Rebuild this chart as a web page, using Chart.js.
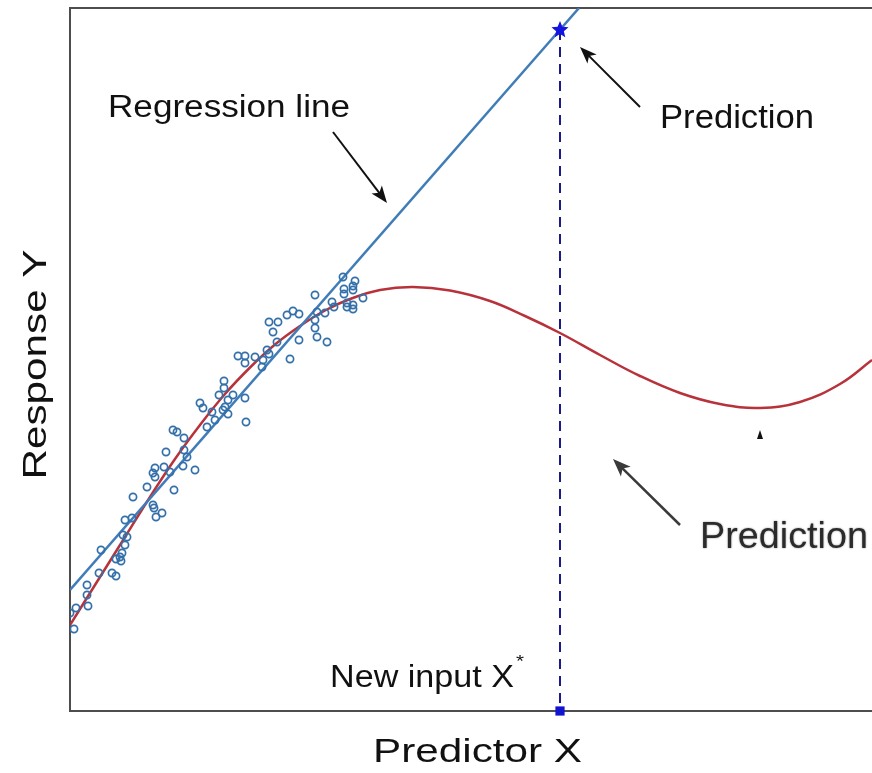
<!DOCTYPE html>
<html>
<head>
<meta charset="utf-8">
<script src="https://cdn.jsdelivr.net/npm/chart.js@4.4.1/dist/chart.umd.min.js"></script>
<style>
  html, body { margin: 0; padding: 0; background: #fff; }
  #wrap { width: 872px; height: 773px; }
</style>
</head>
<body>
<div id="wrap"><canvas id="chart" width="872" height="773"></canvas></div>
<script>
var obsX = [27.3, 28.5, 28.3, 27.4, 28.3, 24.5, 27.4, 29.3, 26.2, 27.7, 28.3, 26.4, 27.7, 28.3, 24.7, 25.5, 24.5, 22.3, 22.9, 21.7,
            19.9, 20.8, 20.3, 24.5, 24.7, 22.9, 25.7, 20.7, 19.7, 19.9, 19.3, 22.0, 16.8, 17.5, 18.5, 17.5, 19.2, 15.4, 15.4, 14.9,
            16.3, 17.5, 15.8, 13.0, 13.3, 15.5, 14.2, 15.3, 15.8, 14.5, 17.6, 10.3, 10.7, 11.4, 13.7, 9.6, 11.4, 11.7, 12.5, 11.3,
            8.5, 9.4, 8.3, 8.5, 10.0, 7.7, 10.4, 6.3, 8.3, 8.4, 9.2, 8.6, 5.5, 6.2, 5.3, 5.7, 5.5, 5.2, 5.0, 5.1,
            4.6, 3.1, 2.9, 4.2, 4.6, 1.7, 1.7, 1.8, 0.6, 0.0, 0.4];
var obsY = [43.4, 43.0, 42.5, 42.2, 42.1, 41.6, 41.7, 41.3, 40.9, 40.8, 40.6, 40.4, 40.4, 40.2, 39.9, 39.8, 39.1, 40.0, 39.7, 39.6,
            38.9, 38.9, 37.9, 38.3, 37.4, 37.1, 36.9, 36.9, 36.1, 35.7, 35.1, 35.2, 35.5, 35.5, 35.4, 34.8, 34.4, 33.0, 32.3, 31.6,
            31.6, 31.3, 31.1, 30.8, 30.3, 30.4, 29.9, 30.1, 29.7, 29.1, 28.9, 28.1, 27.9, 27.3, 28.4, 25.9, 26.1, 25.4, 24.1, 24.5,
            24.3, 24.4, 23.8, 23.4, 23.9, 22.4, 22.1, 21.4, 20.6, 20.3, 19.8, 19.4, 19.1, 19.3, 17.6, 17.4, 16.6, 15.8, 15.4, 15.0,
            15.2, 16.1, 13.8, 13.8, 13.5, 12.6, 11.6, 10.5, 10.3, 9.8, 8.2];

// straight regression line
var regX = [0, 50.9];
var regY = [12.1, 70.3];

// red nonlinear curve
var curveX = [0, 2.5, 5.0, 8.0, 10.5, 13.0, 15.5, 18.0, 20.5, 23.0, 25.5, 28.0, 31.0, 34.3,
              38.0, 42.0, 45.5, 49.0, 53.0, 57.0, 61.0, 65.0, 69.0, 73.0, 77.0, 80.2];
var curveY = [8.6, 12.6, 16.6, 21.4, 25.2, 28.6, 31.7, 34.35, 36.65, 38.5, 40.05, 41.2, 42.1, 42.4,
              42.05, 41.0, 39.5, 37.8, 35.6, 33.5, 31.8, 30.7, 30.3, 30.9, 32.7, 35.1];

// new input and its prediction
var newInputX = 49.0;
var predictionY = 68.1;

var xMin = 0, xMax = 80.2, yMin = 0, yMax = 70.3;

var fontFamily = '"Liberation Sans", Arial, sans-serif';

function makeStar(r, color) {
    var c = document.createElement('canvas');
    c.width = c.height = 2 * r + 2;
    var g = c.getContext('2d');
    g.fillStyle = color;
    g.beginPath();
    for (var i = 0; i < 10; i++) {
        var a = -Math.PI / 2 + i * Math.PI / 5;
        var rr = i % 2 ? r * 0.45 : r;
        g.lineTo(r + 1 + rr * Math.cos(a), r + 1 + rr * Math.sin(a));
    }
    g.closePath();
    g.fill();
    return c;
}

function toPoints(xs, ys) {
    return xs.map(function (x, i) { return { x: x, y: ys[i] }; });
}

// draw text squeezed/stretched to a given width
function stretchText(ctx, str, x, y, size, width, color) {
    ctx.save();
    ctx.font = size + 'px ' + fontFamily;
    var w = ctx.measureText(str).width;
    ctx.translate(x, y);
    ctx.scale(width / w, 1);
    ctx.fillStyle = color || '#111';
    ctx.textAlign = 'left';
    ctx.textBaseline = 'alphabetic';
    ctx.fillText(str, 0, 0);
    ctx.restore();
}

function arrow(ctx, x1, y1, x2, y2, color, lw, len, wid) {
    var ang = Math.atan2(y2 - y1, x2 - x1);
    ctx.save();
    ctx.strokeStyle = color;
    ctx.fillStyle = color;
    ctx.lineWidth = lw;
    ctx.beginPath();
    ctx.moveTo(x1, y1);
    ctx.lineTo(x2 - Math.cos(ang) * len * 0.7, y2 - Math.sin(ang) * len * 0.7);
    ctx.stroke();
    ctx.translate(x2, y2);
    ctx.rotate(ang);
    ctx.beginPath();
    ctx.moveTo(0, 0);
    ctx.lineTo(-len, -wid / 2);
    ctx.lineTo(-len * 0.75, 0);
    ctx.lineTo(-len, wid / 2);
    ctx.closePath();
    ctx.fill();
    ctx.restore();
}

var annotations = {
    id: 'annotations',
    afterDraw: function (chart) {
        var ctx = chart.ctx;
        var sx = chart.scales.x, sy = chart.scales.y;
        var px = function (v) { return sx.getPixelForValue(v); };
        var py = function (v) { return sy.getPixelForValue(v); };
        var area = chart.chartArea;

        stretchText(ctx, 'Regression line', px(3.8), py(59.4), 31, 242);
        arrow(ctx, px(26.3), py(57.9), px(31.7), py(50.8), '#111', 2, 17, 13);

        stretchText(ctx, 'Prediction', px(59.0), py(58.3), 33, 154);
        arrow(ctx, px(57.0), py(60.4), px(51.0), py(66.4), '#111', 2, 17, 13);

        ctx.save();
        ctx.shadowColor = 'rgba(0,0,0,0.45)';
        ctx.shadowBlur = 2;
        stretchText(ctx, 'Prediction', px(63.0), py(16.3), 37, 168, '#2b2b2b');
        ctx.restore();
        arrow(ctx, px(61.0), py(18.6), px(54.3), py(25.2), '#3a3a3a', 2.5, 18, 14);

        // small leftover arrow tip under the curve minimum
        ctx.save();
        ctx.fillStyle = '#111';
        ctx.beginPath();
        ctx.moveTo(px(69.0), py(28.1));
        ctx.lineTo(px(69.0) - 3, py(28.1) + 9);
        ctx.lineTo(px(69.0) + 3, py(28.1) + 9);
        ctx.closePath();
        ctx.fill();
        ctx.restore();

        stretchText(ctx, 'New input X', px(26.0), py(2.4), 31, 184);
        stretchText(ctx, '*', px(44.6), py(4.4), 17, 8);

        // axis titles
        stretchText(ctx, 'Predictor X', 373, 762, 34, 209);
        ctx.save();
        ctx.translate(46, (area.top + area.bottom) / 2 + 5);
        ctx.rotate(-Math.PI / 2);
        stretchText(ctx, 'Response Y', -115, 0, 34, 230);
        ctx.restore();
    }
};

var ctx = document.getElementById('chart').getContext('2d');
var chart = new Chart(ctx, {
    type: 'scatter',
    data: {
        datasets: [{
            label: 'Observations',
            data: toPoints(obsX, obsY),
            pointStyle: 'circle',
            pointRadius: 3.6,
            pointBorderWidth: 1.7,
            borderColor: '#3370aa',
            backgroundColor: 'rgba(255,255,255,0)',
            order: 1
        }, {
            label: 'Regression line',
            data: toPoints(regX, regY),
            showLine: true,
            pointRadius: 0,
            borderColor: '#407db8',
            borderWidth: 2.5,
            order: 2
        }, {
            label: 'Curve',
            data: toPoints(curveX, curveY),
            showLine: true,
            pointRadius: 0,
            tension: 0.4,
            borderColor: '#b7323a',
            borderWidth: 2.5,
            order: 3
        }, {
            label: 'New input',
            data: [{ x: newInputX, y: predictionY }, { x: newInputX, y: yMin }],
            showLine: true,
            pointRadius: 0,
            borderColor: '#1a1a88',
            borderWidth: 2,
            borderDash: [10, 7],
            order: 4
        }, {
            label: 'Prediction',
            data: [{ x: newInputX, y: predictionY }],
            pointStyle: makeStar(9, '#1414e0'),
            pointRadius: 9,
            clip: false,
            order: 0
        }, {
            label: 'Input',
            data: [{ x: newInputX, y: yMin }],
            pointStyle: 'rect',
            pointRadius: 6.5,
            pointBorderWidth: 0,
            backgroundColor: '#1212d2',
            borderColor: '#1212d2',
            clip: false,
            order: 0
        }]
    },
    options: {
        responsive: false,
        animation: false,
        layout: { autoPadding: false, padding: { left: 70, top: 8, right: 0, bottom: 62 } },
        plugins: { legend: { display: false }, tooltip: { enabled: false } },
        scales: {
            x: {
                type: 'linear', min: xMin, max: xMax,
                ticks: { display: false },
                grid: { display: false, drawTicks: false, tickLength: 0 },
                border: { display: true, color: '#4d4d4d', width: 2 }
            },
            xTop: {
                type: 'linear', axis: 'x', position: 'top', min: xMin, max: xMax,
                ticks: { display: false },
                grid: { display: false, drawTicks: false, tickLength: 0 },
                border: { display: true, color: '#4d4d4d', width: 2 }
            },
            y: {
                type: 'linear', min: yMin, max: yMax,
                ticks: { display: false },
                grid: { display: false, drawTicks: false, tickLength: 0 },
                border: { display: true, color: '#4d4d4d', width: 2 }
            }
        }
    },
    plugins: [annotations]
});
</script>
</body>
</html>
